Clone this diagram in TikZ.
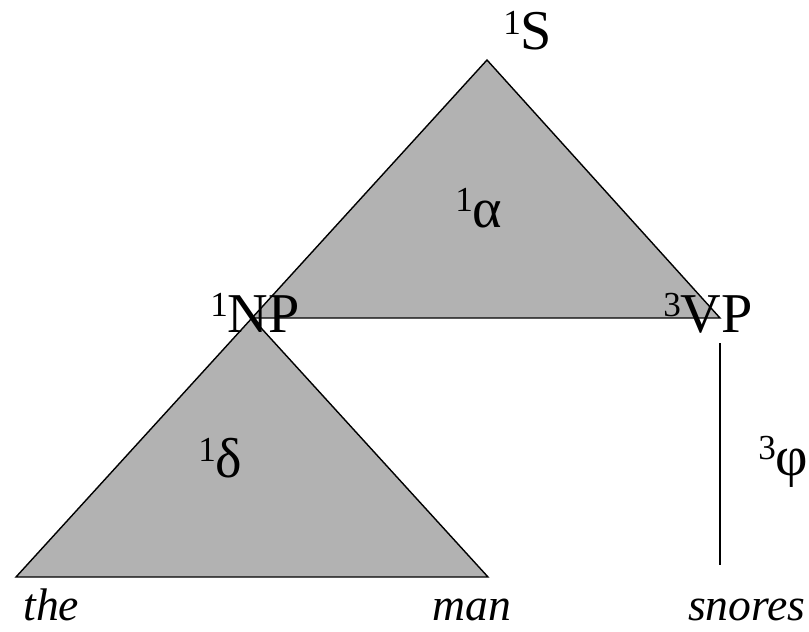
\documentclass[tikz,border=0pt]{standalone}
\usepackage{fontspec}
\setmainfont{Liberation Serif}
\usetikzlibrary{positioning}

\newcommand{\ix}[1]{\raisebox{0.28em}{\fontsize{20}{20}\selectfont #1}}

\begin{document}
\begin{tikzpicture}[x=0.02cm, y=-0.02cm,
    tri/.style={draw=black, line width=0.8pt, fill=black!30, line join=miter},
    cat/.style={font=\fontsize{32}{32}\selectfont, inner sep=0pt, anchor=base west},
    word/.style={font=\itshape\fontsize{26}{26}\selectfont, inner sep=0pt, anchor=base west},
  ]
  \useasboundingbox (0,0) rectangle (809,632);

  % corners of the triangles
  \coordinate (top)  at (487,60);
  \coordinate (npc)  at (252,318);
  \coordinate (vpc)  at (720,318);
  \coordinate (dl)   at (16,577);
  \coordinate (dr)   at (488,577);
  \coordinate (vtop) at (720,343);
  \coordinate (vbot) at (720,565);

  \filldraw[tri] (top) -- (vpc) -- (npc) -- cycle;
  \filldraw[tri] (npc) -- (dr) -- (dl) -- cycle;
  \draw[line width=0.6pt] (vtop) -- (vbot);

  \node[cat] (s)     at (503,50)  {\ix{1}S};
  \node[cat] (alpha) at (455,227) {\ix{1}α};
  \node[cat] (np)    at (210,332) {\ix{1}NP};
  \node[cat] (vp)    at (663,332) {\ix{3}VP};
  \node[cat] (delta) at (198,477) {\ix{1}δ};
  \node[cat] (phi)   at (758,475) {\ix{3}φ};

  \node[word] (the)    at (23,620)  {the};
  \node[word] (man)    at (432,620) {man};
  \node[word, anchor=base east] (snores) at (806,620) {snores};
\end{tikzpicture}
\end{document}
